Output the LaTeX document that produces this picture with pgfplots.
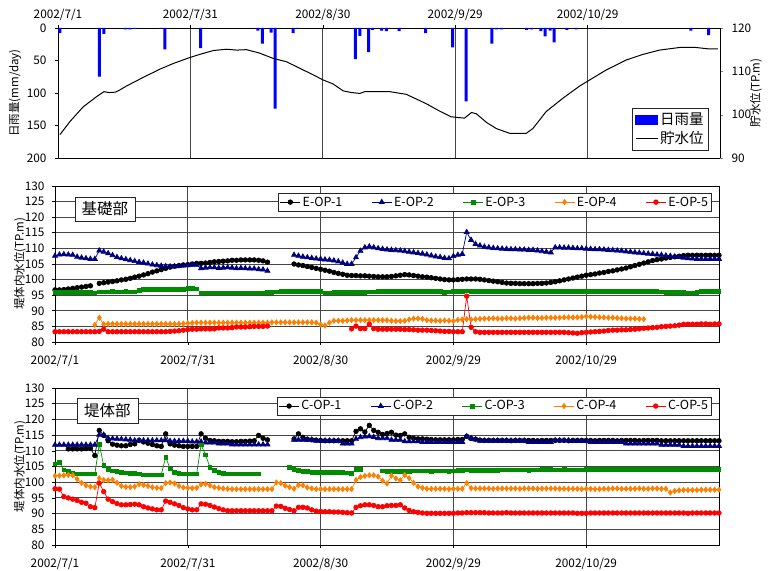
\documentclass[border=0pt]{standalone}
\usepackage{fontspec}
\setmainfont{Noto Sans CJK JP}
\usepackage{pgfplots}
\usepackage{pgfplotstable}
\pgfplotsset{compat=1.18}
\definecolor{navyb}{RGB}{0,0,128}
\definecolor{greenb}{RGB}{0,140,0}
\definecolor{orangeb}{RGB}{255,128,0}
\definecolor{redb}{RGB}{255,0,0}
\definecolor{gridc}{RGB}{70,70,70}
\newcommand{\tickfont}{\fontsize{11.8}{13}\selectfont}
\newcommand{\labfont}{\fontsize{11.5}{13}\selectfont}

\pgfplotstableread{
d E1 E2 E3 E4 E5
0 96.7 107.6 95.9 nan 83.3
1 96.7 108.0 95.9 nan 83.3
2 96.8 108.1 95.9 nan 83.3
3 97.0 108.0 95.9 nan 83.3
4 97.2 107.9 95.9 nan 83.3
5 97.4 107.3 95.9 nan 83.3
6 97.6 107.0 95.9 nan 83.3
7 97.8 106.8 96.0 nan 83.3
8 98.0 106.6 95.9 nan 83.3
9 nan 106.6 95.8 85.5 83.3
10 98.8 109.3 96.1 87.8 83.4
11 99.0 108.9 96.1 85.7 84.1
12 99.2 108.4 96.1 85.8 83.3
13 99.4 107.8 96.2 85.8 83.3
14 99.6 107.2 96.1 85.8 83.3
15 99.9 106.8 96.1 85.8 83.3
16 100.1 106.5 96.2 85.8 83.3
17 100.4 106.2 96.1 85.8 83.3
18 100.8 105.9 96.1 85.8 83.3
19 101.1 105.6 96.5 85.8 83.3
20 101.5 105.4 96.8 85.8 83.3
21 101.9 105.1 96.8 85.8 83.3
22 102.4 104.8 96.8 85.8 83.3
23 102.8 104.6 96.8 85.8 83.3
24 103.2 104.4 96.8 85.8 83.3
25 103.6 104.3 96.9 85.8 83.3
26 104.0 104.2 96.8 85.8 83.4
27 104.3 104.2 96.8 85.8 83.5
28 104.5 104.3 96.8 85.8 83.6
29 104.7 104.5 96.9 85.9 83.8
30 104.8 104.6 97.1 86.0 84.0
31 105.0 104.7 97.1 86.1 84.1
32 105.2 104.7 97.0 86.2 84.1
33 105.2 103.6 95.8 86.2 84.2
34 105.3 103.8 95.7 86.2 84.2
35 105.5 103.9 95.8 86.2 84.2
36 105.7 103.9 95.8 86.2 84.2
37 105.8 103.7 95.8 86.2 84.5
38 105.9 103.8 95.8 86.2 84.5
39 106.0 103.9 95.8 86.2 84.5
40 106.2 103.8 95.8 86.2 84.6
41 106.2 103.6 95.8 86.2 84.8
42 106.3 103.7 95.8 86.2 84.8
43 106.3 103.6 95.8 86.2 84.8
44 106.3 103.5 95.8 86.2 84.9
45 106.3 103.5 95.8 86.2 85.0
46 106.2 103.3 95.8 86.2 85.0
47 106.0 103.2 95.8 86.2 85.0
48 105.6 102.8 95.9 86.2 85.1
49 nan nan 95.9 86.3 nan
50 nan nan 96.1 86.3 nan
51 nan nan 96.2 86.3 nan
52 nan nan 96.2 86.3 nan
53 nan nan 96.2 86.3 nan
54 105.0 107.9 96.2 86.3 nan
55 104.7 107.6 96.2 86.3 nan
56 104.5 107.3 96.2 86.3 nan
57 104.2 107.1 96.2 86.3 nan
58 103.9 106.9 96.2 86.3 nan
59 103.6 106.7 96.2 86.2 nan
60 103.3 106.6 96.2 85.6 nan
61 103.0 106.4 95.8 85.3 nan
62 102.7 106.3 95.8 86.2 nan
63 102.3 106.1 96.0 86.8 nan
64 102.0 105.8 96.0 86.8 nan
65 101.7 105.4 96.0 86.8 nan
66 101.4 105.0 96.0 86.9 nan
67 101.3 105.0 96.0 87.0 84.2
68 101.3 107.1 96.0 87.0 85.1
69 101.2 109.2 96.0 87.0 84.3
70 101.2 110.3 96.0 87.0 84.3
71 101.1 110.6 96.1 87.0 85.7
72 101.0 110.3 96.1 87.0 84.3
73 100.9 110.0 96.2 87.0 84.1
74 100.9 109.8 96.2 87.0 84.1
75 100.9 109.6 96.3 87.0 84.1
76 101.0 109.5 96.3 86.8 84.1
77 101.2 109.4 96.3 86.7 84.1
78 101.4 109.3 96.3 86.7 84.1
79 101.6 109.1 96.3 86.8 84.0
80 101.5 108.9 96.3 87.2 84.0
81 101.3 108.7 96.3 87.5 83.9
82 101.1 108.5 96.3 87.5 83.8
83 100.9 108.3 96.3 87.4 83.8
84 100.8 108.0 96.3 87.0 83.8
85 100.6 107.7 96.3 86.9 83.7
86 100.4 107.4 96.3 86.9 83.6
87 100.2 107.2 96.2 86.8 83.5
88 100.0 106.9 96.0 86.9 83.4
89 99.9 106.8 96.1 86.8 83.4
90 99.9 107.5 96.2 86.7 83.3
91 100.0 107.9 96.3 87.1 83.3
92 100.1 108.2 96.3 87.2 83.3
93 100.2 115.2 96.4 87.3 94.7
94 100.2 112.7 96.3 87.2 84.7
95 100.2 111.4 96.3 87.3 83.3
96 100.1 110.9 96.3 87.4 83.1
97 99.9 110.5 96.3 87.5 83.1
98 99.7 110.3 96.3 87.5 83.1
99 99.5 110.1 96.2 87.6 83.1
100 99.3 110.0 96.3 87.5 83.1
101 99.1 109.9 96.3 87.5 83.1
102 98.9 109.8 96.3 87.6 83.1
103 98.8 109.7 96.3 87.6 83.1
104 98.8 109.7 96.3 87.5 83.1
105 98.7 109.6 96.2 87.6 83.1
106 98.7 109.6 96.3 87.7 83.1
107 98.7 109.5 96.3 87.8 83.1
108 98.7 109.5 96.3 87.8 83.1
109 98.8 109.3 96.3 87.7 83.1
110 98.8 109.1 96.3 87.7 83.1
111 98.9 108.9 96.2 87.8 83.1
112 99.1 108.7 96.3 87.8 83.1
113 99.3 110.3 96.3 87.8 83.1
114 99.6 110.3 96.3 87.8 83.1
115 99.9 110.2 96.2 87.9 83.1
116 100.2 110.2 96.2 87.9 83.0
117 100.5 110.1 96.3 87.9 82.9
118 100.8 110.0 96.3 87.9 82.8
119 101.1 110.0 96.3 88.0 83.0
120 101.4 109.9 96.3 88.2 83.1
121 101.6 109.8 96.3 88.1 83.2
122 101.8 109.7 96.3 88.0 83.3
123 102.1 109.7 96.2 87.9 83.4
124 102.3 109.6 96.3 87.9 83.5
125 102.6 109.5 96.3 87.8 83.7
126 102.8 109.4 96.3 87.8 83.8
127 103.1 109.3 96.2 87.7 83.8
128 103.4 109.2 96.2 87.6 83.9
129 103.7 109.0 96.2 87.5 83.9
130 104.1 108.9 96.2 87.5 84.0
131 104.5 108.7 96.2 87.5 84.1
132 104.9 108.6 96.2 87.4 84.2
133 105.3 108.4 96.2 87.3 84.4
134 105.7 108.3 96.2 nan 84.5
135 106.1 108.2 96.2 nan 84.6
136 106.4 108.0 96.2 nan 84.7
137 106.6 107.9 96.1 nan 84.9
138 106.9 107.7 95.9 nan 85.0
139 107.1 107.6 95.9 nan 85.1
140 107.3 107.4 95.9 nan 85.2
141 107.5 107.2 95.9 nan 85.4
142 107.7 107.0 95.9 nan 85.7
143 107.8 106.8 95.8 nan 85.7
144 107.8 106.7 95.8 nan 85.7
145 107.8 106.6 95.9 nan 85.7
146 107.8 106.6 96.2 nan 85.8
147 107.8 106.6 96.3 nan 85.8
148 107.8 106.6 96.3 nan 85.7
149 107.8 106.6 96.3 nan 85.8
150 107.8 106.6 96.3 nan 85.8
}\tabE

\pgfplotstableread{
d C1 C2 C3 C4 C5
0 nan 111.9 105.9 102.0 97.9
1 nan 111.9 106.3 102.1 97.8
2 nan 111.9 103.9 102.2 95.4
3 110.6 111.9 103.4 102.3 95.0
4 110.6 111.9 102.9 102.2 94.6
5 110.6 111.9 102.7 101.0 94.2
6 110.6 111.9 102.6 99.8 93.6
7 110.7 111.9 102.6 99.0 93.3
8 110.7 111.9 102.6 98.6 92.2
9 108.5 111.9 102.6 98.4 91.9
10 116.5 115.1 112.1 101.3 99.7
11 114.9 115.1 105.3 100.7 97.0
12 113.2 114.0 104.1 100.6 94.6
13 112.1 113.9 103.6 100.8 93.8
14 111.8 113.8 103.4 99.8 93.2
15 111.6 113.7 103.2 98.8 92.8
16 111.6 113.6 103.0 98.5 92.8
17 112.0 113.5 102.9 98.4 92.9
18 112.2 113.3 102.8 98.6 93.0
19 113.3 113.3 102.6 99.4 92.8
20 112.8 113.3 102.4 99.1 92.2
21 112.4 113.3 102.4 98.8 91.8
22 112.0 113.3 102.4 98.4 91.5
23 111.6 113.3 102.4 98.2 91.2
24 111.4 113.3 102.4 98.1 91.2
25 115.4 113.3 108.0 99.7 94.0
26 112.2 113.1 104.3 99.9 93.6
27 111.8 113.1 103.1 99.6 93.1
28 111.6 113.1 102.8 98.8 92.6
29 111.4 113.1 102.7 98.3 91.9
30 111.4 113.1 102.7 98.2 91.5
31 111.4 112.9 102.7 98.1 91.2
32 111.4 112.9 102.7 98.2 91.2
33 115.4 112.9 111.9 99.3 93.1
34 114.0 112.6 108.7 99.5 93.0
35 113.3 112.6 104.8 99.0 92.6
36 113.2 112.6 103.7 98.4 92.1
37 113.0 112.3 103.2 98.2 91.6
38 113.0 112.3 102.8 98.0 91.2
39 113.0 112.3 102.6 97.9 90.9
40 112.9 112.0 102.6 97.8 90.9
41 112.9 112.0 102.6 97.8 90.9
42 113.0 112.0 102.6 97.8 90.9
43 113.0 112.0 102.6 97.8 90.9
44 113.1 112.0 102.6 97.8 90.9
45 113.2 112.0 102.6 97.8 90.9
46 114.9 112.0 102.6 97.8 90.9
47 114.0 112.0 nan 97.8 90.9
48 113.5 112.0 nan 97.8 90.9
49 nan nan nan 97.8 90.9
50 nan nan nan 99.9 92.4
51 nan nan nan 99.7 92.3
52 nan nan nan 98.9 91.7
53 nan nan 104.7 98.4 91.3
54 113.8 113.5 104.1 97.9 90.9
55 115.4 113.5 103.7 99.1 92.0
56 114.3 113.5 103.5 99.0 92.0
57 113.7 113.5 103.4 98.3 91.8
58 113.5 113.5 103.1 98.0 91.2
59 113.4 113.2 103.1 97.8 90.8
60 113.3 113.2 103.1 97.8 90.7
61 113.2 113.2 103.1 97.8 90.6
62 113.2 113.2 103.1 97.8 90.6
63 113.2 113.2 103.1 97.8 90.5
64 113.2 113.2 103.1 97.8 90.5
65 113.2 112.3 103.1 97.8 90.4
66 113.2 112.3 103.0 97.8 90.3
67 113.2 112.3 102.9 97.8 90.2
68 116.2 113.8 104.1 100.7 92.0
69 117.0 114.3 104.1 101.6 92.5
70 116.0 114.5 nan 102.0 92.8
71 118.1 114.6 nan 102.2 92.8
72 116.5 114.4 nan 102.2 92.6
73 115.9 114.0 nan 101.8 92.2
74 115.2 114.0 103.6 100.5 92.2
75 115.5 114.0 103.5 99.6 92.5
76 115.9 113.5 103.5 102.1 92.6
77 115.0 113.5 103.4 101.2 92.6
78 114.9 113.5 103.5 100.6 92.8
79 115.4 113.0 103.5 102.3 91.8
80 114.3 113.0 103.5 101.3 91.0
81 114.0 113.0 103.6 99.8 90.6
82 113.8 113.0 103.6 98.6 90.4
83 113.8 112.8 103.6 98.2 90.2
84 113.7 112.8 103.6 97.9 90.1
85 113.6 112.8 103.5 97.9 90.1
86 113.5 112.8 103.6 97.9 90.1
87 113.5 112.8 103.6 97.9 90.1
88 113.5 112.8 103.6 97.9 90.1
89 113.5 112.8 103.5 97.8 90.1
90 113.5 112.8 103.6 97.9 90.1
91 113.6 112.8 103.7 97.9 90.2
92 113.6 112.8 103.8 97.9 90.2
93 114.6 114.6 103.9 99.7 90.3
94 113.9 114.0 103.8 98.1 90.3
95 113.7 113.6 103.8 98.0 90.3
96 113.4 113.2 103.8 98.0 90.3
97 113.3 113.2 103.8 98.0 90.3
98 113.3 113.2 103.8 98.0 90.2
99 113.3 113.2 103.7 97.9 90.2
100 113.3 113.2 103.8 98.0 90.2
101 113.3 113.2 103.9 98.0 90.2
102 113.3 113.2 103.9 98.0 90.3
103 113.2 113.2 103.9 98.0 90.2
104 113.3 113.2 103.9 98.0 90.2
105 113.3 113.2 103.9 97.9 90.2
106 113.3 113.2 103.9 98.0 90.2
107 113.3 112.8 103.8 98.0 90.2
108 113.3 112.8 103.9 98.0 90.2
109 113.2 112.8 103.9 97.9 90.2
110 113.3 112.8 104.0 98.0 90.2
111 113.3 112.8 104.0 98.0 90.2
112 113.3 112.8 104.0 98.0 90.2
113 113.3 113.3 103.9 98.0 90.2
114 113.3 113.3 103.9 97.9 90.2
115 113.3 113.3 104.0 97.9 90.2
116 113.2 113.3 103.9 97.9 90.2
117 113.3 113.1 103.9 97.9 90.2
118 113.3 113.1 103.9 97.9 90.1
119 113.3 113.1 103.9 97.8 90.1
120 113.3 113.1 104.1 97.9 90.1
121 113.3 112.8 104.1 97.9 90.2
122 113.2 112.8 104.1 97.8 90.2
123 113.3 112.8 104.1 97.8 90.2
124 113.3 112.8 104.1 97.9 90.2
125 113.3 112.8 104.1 97.9 90.2
126 113.3 112.8 104.1 98.0 90.2
127 113.2 112.8 104.1 98.0 90.2
128 113.3 112.8 104.1 97.9 90.2
129 113.3 112.3 104.1 97.9 90.2
130 113.3 112.3 104.1 97.9 90.2
131 113.3 112.3 104.1 97.9 90.2
132 113.2 112.3 104.1 98.0 90.2
133 113.3 112.3 104.1 97.9 90.2
134 113.3 112.3 104.1 97.9 90.2
135 113.3 112.3 104.1 98.0 90.2
136 113.3 112.3 104.1 98.0 90.2
137 113.2 111.9 104.1 97.9 90.2
138 113.2 111.9 104.1 97.9 90.2
139 113.2 111.9 104.1 96.7 90.2
140 113.2 111.9 104.1 97.2 90.2
141 113.2 111.9 104.1 97.4 90.2
142 113.2 111.5 104.1 97.5 90.2
143 113.2 111.5 104.1 97.5 90.1
144 113.2 111.5 104.1 97.5 90.2
145 113.2 111.5 104.1 97.5 90.2
146 113.2 111.5 104.1 97.6 90.2
147 113.2 111.5 104.1 97.6 90.2
148 113.2 111.5 104.1 97.6 90.2
149 113.2 111.5 104.1 97.6 90.2
150 113.2 111.5 104.1 97.6 90.2
}\tabC

\pgfplotsset{
  base/.style={
    scale only axis,
    xmin=0, xmax=150,
    xtick={0,30,60,90,120},
    xticklabels={2002/7/1,2002/7/31,2002/8/30,2002/9/29,2002/10/29},
    tick label style={font=\tickfont},
    /pgf/number format/assume math mode=true,
    xmajorgrids,
    grid style={gridc, line width=0.9pt},
    tick align=outside, major tick length=3pt,
    axis line style={black, line width=0.9pt},
    tick style={black, line width=0.6pt},
  },
  panel/.style={
    base, width=664pt, height=156pt,
    ymin=80, ymax=130, ytick={80,85,...,130},
    ymajorgrids,
    unbounded coords=jump,
    ylabel={堤体内水位(TP.m)},
    every axis y label/.style={at={(axis description cs:-0.0527,0.5)}, rotate=90, anchor=center, font=\labfont},
    xticklabel style={yshift=-7pt},
    yticklabel style={xshift=-4pt},
    xtick pos=bottom, ytick pos=left,
    legend columns=5,
    legend style={anchor=north east, draw=black!85, fill=white,
      font=\fontsize{12.5}{14}\selectfont, inner sep=1.5pt,
      /tikz/every even column/.append style={column sep=27pt}},
    legend image code/.code={%
      \draw[mark repeat=2,mark phase=2,##1] plot coordinates {(0pt,0pt) (10pt,0pt) (20pt,0pt)};},
  },
  s1/.style={black, line width=0.7pt, mark=*, mark size=2.3pt, mark options={solid, fill=black}},
  s2/.style={navyb, line width=0.7pt, mark=triangle*, mark size=2.9pt, mark options={solid, fill=navyb}},
  s3/.style={greenb, line width=0.7pt, mark=square*, mark size=1.8pt, mark options={solid, fill=greenb}},
  s4/.style={orangeb, line width=0.7pt, mark=diamond*, mark size=2.6pt, mark options={solid, fill=orangeb}},
  s5/.style={redb, line width=0.7pt, mark=*, mark size=2.3pt, mark options={solid, fill=redb}},
}

\begin{document}
\begin{tikzpicture}
\useasboundingbox (0,0) rectangle (776pt,570pt);

% ---------- top panel: rainfall ----------
\begin{axis}[base, width=662pt, height=130pt, at={(58pt,412pt)}, anchor=south west,
  ymin=0, ymax=200, y dir=reverse, ytick={0,50,...,200},
  xticklabel pos=upper, xtick pos=upper, ytick pos=left,
  xticklabel style={yshift=1pt},
  yticklabel style={xshift=-5pt},
  ylabel={日雨量(mm/day)},
  every axis y label/.style={at={(axis description cs:-0.065,0.5)}, rotate=90, anchor=center, font=\labfont}]
\addplot[ybar, bar width=3pt, fill=blue, draw=none] coordinates {
(0.45,8) (9.4,75) (10.4,9) (15.3,2) (16.3,2) (17.4,1.5) (23.3,1) (24.2,33)
(32.3,31) (45.3,4) (46.3,24) (48.3,7) (49.2,124) (53.3,8) (54.3,1)
(67.4,48) (68.4,12) (70.4,37) (71.3,3) (73.3,4) (74.4,5) (77.3,5)
(83.3,8) (89.4,30) (92.5,113) (98.3,24) (99.4,2) (100.5,2) (106.2,3)
(107.3,2) (109.4,5) (110.4,13) (111.5,4) (112.4,22) (115.3,3) (117.4,2)
(123.4,1) (143.4,4) (147.4,11)};
\end{axis}

% ---------- top panel: reservoir level ----------
\begin{axis}[scale only axis, width=662pt, height=130pt, at={(58pt,412pt)}, anchor=south west,
  xmin=0, xmax=150, ymin=90, ymax=120, ytick={90,100,110,120},
  axis x line=none, axis y line*=right,
  tick label style={font=\tickfont},
  /pgf/number format/assume math mode=true,
  tick align=outside, major tick length=3pt,
  axis line style={black, line width=0.9pt},
  yticklabel style={xshift=5pt},
  ylabel={貯水位(TP.m)},
  every axis y label/.style={at={(axis description cs:1.0544,0.5)}, rotate=90, anchor=center, font=\labfont},
  legend style={at={(0.983,0.06)}, anchor=south east, draw=black!85, fill=white,
    font=\fontsize{14.5}{16}\selectfont, row sep=1pt, inner sep=3pt},
  legend cell align=left]
\addlegendimage{legend image code/.code={\fill[blue] (0pt,-4.5pt) rectangle (22pt,5pt);}}
\addlegendentry{日雨量}
\addplot[black, line width=1pt, no marks,
  legend image code/.code={\draw[black, line width=1pt] (0pt,0pt) -- (22pt,0pt);}] coordinates {
(0.45,95.4) (2.7,98.4) (5.7,101.8) (8.8,104.2) (10.4,105.3) (11.6,105.1) (13,105.2)
(14,105.7) (15.5,106.6) (19.3,108.6) (23.1,110.5) (26.1,111.8) (29.9,113.2)
(32.1,113.9) (35.2,114.8) (38.2,115.1) (40.5,114.9) (42.7,115.0) (45.7,114.2)
(48.7,113.0) (51.8,112.2) (54.8,110.7) (57.8,109.2) (60.1,108.0) (62.3,107.1)
(64.6,105.5) (66.5,105.1) (68.4,104.9) (69.5,105.3) (75.2,105.3) (78.9,104.7)
(83.5,102.5) (86.5,100.8) (89.1,99.5) (92.1,99.2) (93.7,100.5) (94.8,100.2)
(97.1,98.2) (99.3,96.8) (102.3,95.7) (106.1,95.7) (107.6,96.8) (110.6,100.7)
(114.4,103.8) (118.2,106.6) (119.8,107.6) (124.2,110.3) (128.7,112.6)
(132.5,113.9) (136.3,114.9) (140.8,115.5) (144.6,115.5) (147.2,115.2) (149.5,115.2)};
\addlegendentry{貯水位}
\end{axis}

% ---------- middle panel ----------
\begin{axis}[panel, at={(55pt,228pt)}, anchor=south west,
  legend style={at={(0.989,0.955)}}]
\addplot[s1] table[x=d, y=E1] {\tabE}; \addlegendentry{E-OP-1}
\addplot[s2] table[x=d, y=E2] {\tabE}; \addlegendentry{E-OP-2}
\addplot[s3] table[x=d, y=E3] {\tabE}; \addlegendentry{E-OP-3}
\addplot[s4] table[x=d, y=E4] {\tabE}; \addlegendentry{E-OP-4}
\addplot[s5] table[x=d, y=E5] {\tabE}; \addlegendentry{E-OP-5}
\node[draw=black!85, fill=white, font=\fontsize{15.5}{17}\selectfont,
  minimum width=60pt, minimum height=24pt, inner sep=2pt] at (rel axis cs:0.075,0.853) {基礎部};
\end{axis}

% ---------- bottom panel ----------
\begin{axis}[panel, height=157pt, at={(55pt,25pt)}, anchor=south west,
  legend style={at={(0.989,0.943)}}]
\addplot[s1] table[x=d, y=C1] {\tabC}; \addlegendentry{C-OP-1}
\addplot[s2] table[x=d, y=C2] {\tabC}; \addlegendentry{C-OP-2}
\addplot[s3] table[x=d, y=C3] {\tabC}; \addlegendentry{C-OP-3}
\addplot[s4] table[x=d, y=C4] {\tabC}; \addlegendentry{C-OP-4}
\addplot[s5] table[x=d, y=C5] {\tabC}; \addlegendentry{C-OP-5}
\node[draw=black!85, fill=white, font=\fontsize{15.5}{17}\selectfont,
  minimum width=61pt, minimum height=25pt, inner sep=2pt] at (rel axis cs:0.079,0.857) {堤体部};
\end{axis}
\end{tikzpicture}
\end{document}
